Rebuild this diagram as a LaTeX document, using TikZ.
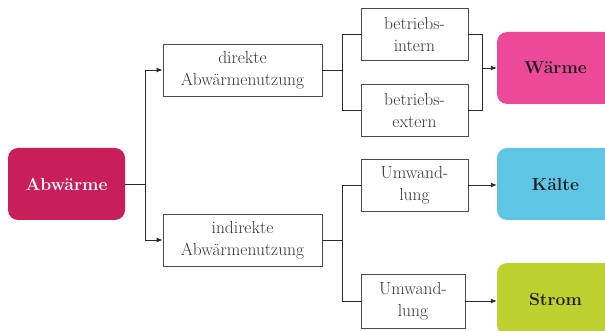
\documentclass[tikz,border=0pt]{standalone}
\usepackage{fontspec}
\usetikzlibrary{arrows.meta,calc}
\definecolor{cAbw}{HTML}{C81E5A}
\definecolor{cWarm}{HTML}{EC4A98}
\definecolor{cKalt}{HTML}{5EC6E4}
\definecolor{cStrom}{HTML}{BFD12F}
\definecolor{boxline}{HTML}{4A4A4A}
\definecolor{boxtext}{HTML}{363636}
\definecolor{linecol}{HTML}{2A2A2A}
\definecolor{goaltext}{HTML}{1E1E1E}
\begin{document}
\begin{tikzpicture}[x=1pt,y=-1pt,
  box/.style={draw=boxline, line width=0.9pt, fill=white, text=boxtext,
    align=center, inner sep=0pt, minimum height=52pt,
    font=\fontsize{17.5}{22}\selectfont},
  goal/.style={rounded corners=10pt, inner sep=0pt, minimum width=117pt,
    minimum height=72pt, text=goaltext,
    font=\fontsize{17.5}{21}\selectfont\bfseries},
  link/.style={draw=linecol, line width=0.9pt},
  arr/.style={link, -{Latex[length=6pt,width=5pt]}}]
\useasboundingbox (0,0) rectangle (605,331);
\clip (0,0) rectangle (605,331);

% source and targets
\node[goal, fill=cAbw, text=white] (abw) at (66.5,184) {Abwärme};
\node[goal, fill=cWarm] (waerme) at (555.5,68) {Wärme};
\node[goal, fill=cKalt] (kaelte) at (555.5,184) {Kälte};
\node[goal, fill=cStrom] (strom) at (555.5,299) {Strom};

% intermediate boxes
\node[box, minimum width=159pt] (dir) at (242.5,70) {direkte\\Abwärmenutzung};
\node[box, minimum width=159pt] (ind) at (242.5,240) {indirekte\\Abwärmenutzung};
\node[box, minimum width=107pt] (intern) at (414.5,34) {betriebs-\\intern};
\node[box, minimum width=107pt] (extern) at (414.5,110) {betriebs-\\extern};
\node[box, minimum width=107pt] (umw1) at (414.5,185) {Umwand-\\lung};
\node[box, minimum width=104pt, minimum height=54pt] (umw2) at (413,301) {Umwand-\\lung};

% Abwärme splits into direct and indirect use
\draw[link] (abw.east) -- ++(20,0) coordinate (j1);
\draw[arr] (j1) |- (dir.west);
\draw[arr] (j1) |- (ind.west);

% direct use: internal or external
\draw[link] (dir.east) -- ++(20,0) coordinate (j2);
\draw[link] (j2) |- (intern.west);
\draw[link] (j2) |- (extern.west);
\coordinate (j3) at ($(intern.east)+(14,0)$);
\draw[link] (intern.east) -- (j3) |- (extern.east);
\draw[arr] (j3 |- waerme.west) -- (waerme.west);

% indirect use: conversion to cold and power
\draw[link] (ind.east) -- ++(20,0) coordinate (j4);
\draw[link] (j4) |- (umw1.west);
\draw[link] (j4) |- (umw2.west);
\draw[arr] (umw1.east) -- (umw1.east -| kaelte.west);
\draw[arr] (umw2.east) -- (umw2.east -| strom.west);
\end{tikzpicture}
\end{document}
